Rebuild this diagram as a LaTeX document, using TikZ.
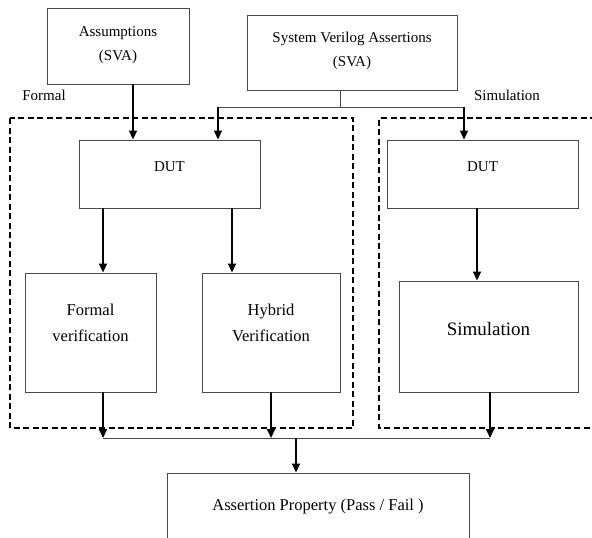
\documentclass[tikz,border=0pt]{standalone}
\usepackage{fontspec}
\setmainfont{Liberation Serif}
\usetikzlibrary{arrows.meta}
\definecolor{boxgray}{HTML}{4A4A4A}
\tikzset{
  box/.style={draw=boxgray, line width=0.9pt, fill=white, inner sep=0pt},
  lbl/.style={inner sep=0pt, align=center, font=\fontsize{15}{24}\selectfont},
  biglbl/.style={inner sep=0pt, align=center, font=\fontsize{16.5}{26}\selectfont},
  arr/.style={draw=black, line width=1.7pt, -{Triangle[length=9pt,width=8pt]}},
  thinarr/.style={draw=black, line width=1.2pt, -{Triangle[length=9pt,width=8pt]}},
  wire/.style={draw=boxgray, line width=0.9pt},
  dashbox/.style={draw=black, line width=1.8pt, dash pattern=on 6pt off 3.5pt},
}
\begin{document}
\begin{tikzpicture}[x=1pt,y=-1pt]
\useasboundingbox (0,0) rectangle (592,538);
% dashed regions
\draw[dashbox] (10,118) rectangle (353,428);
\draw[dashbox] (596,118) -- (379,118) -- (379,428) -- (596,428);
% boxes
\node[box, minimum width=142pt, minimum height=76pt] (assum) at (118,46) {};
\node[box, minimum width=210pt, minimum height=75pt] (sva) at (352,52.5) {};
\node[box, minimum width=181pt, minimum height=68pt] (dut1) at (169.5,174) {};
\node[box, minimum width=191pt, minimum height=68pt] (dut2) at (482.5,174) {};
\node[box, minimum width=131pt, minimum height=119pt] (fv) at (90.5,332.5) {};
\node[box, minimum width=138pt, minimum height=119pt] (hv) at (271,332.5) {};
\node[box, minimum width=179pt, minimum height=111pt] (sim) at (488.5,336.5) {};
\node[box, minimum width=302pt, minimum height=70pt] (ap) at (318,508) {};
% texts
\node[lbl] (tassum) at (118,45) {Assumptions\\(SVA)};
\node[lbl] (tsva) at (352,51) {System Verilog Assertions\\(SVA)};
\node[lbl] (tformal) at (44,95) {Formal};
\node[lbl] (tsimlab) at (507,95) {Simulation};
\node[lbl] (tdut1) at (169.5,167) {DUT};
\node[lbl] (tdut2) at (482.5,167) {DUT};
\node[biglbl] (tfv) at (90.5,323) {Formal\\verification};
\node[biglbl] (thv) at (271,323) {Hybrid\\Verification};
\node[inner sep=0pt, font=\fontsize{19}{24}\selectfont] (tsim) at (488.5,329) {Simulation};
\node[biglbl] (tap) at (318,507) {Assertion Property (Pass / Fail )};
% connectors top
\coordinate (svaj) at (340,107);
\coordinate (jl) at (218,107);
\coordinate (jr) at (464,107);
\draw[wire] (sva.south -| svaj) -- (svaj);
\draw[wire] (jl) -- (jr);
\draw[arr] (assum.south -| 133,0) -- (dut1.north -| 133,0);
\draw[thinarr] (jl) -- (dut1.north -| jl);
\draw[thinarr] (jr) -- (dut2.north -| jr);
% middle
\draw[arr] (dut1.south -| 103,0) -- (fv.north -| 103,0);
\draw[arr] (dut1.south -| 232,0) -- (hv.north -| 232,0);
\draw[arr] (dut2.south -| 477,0) -- (sim.north -| 477,0);
% bottom
\coordinate (bl) at (103,438);
\coordinate (bm1) at (271,438);
\coordinate (br) at (490,438);
\coordinate (bc) at (296,438);
\draw[arr] (fv.south -| bl) -- (bl);
\draw[arr] (hv.south -| bm1) -- (bm1);
\draw[arr] (sim.south -| br) -- (br);
\draw[wire] (bl) -- (br);
\draw[arr] (bc) -- (ap.north -| bc);
\end{tikzpicture}
\end{document}
